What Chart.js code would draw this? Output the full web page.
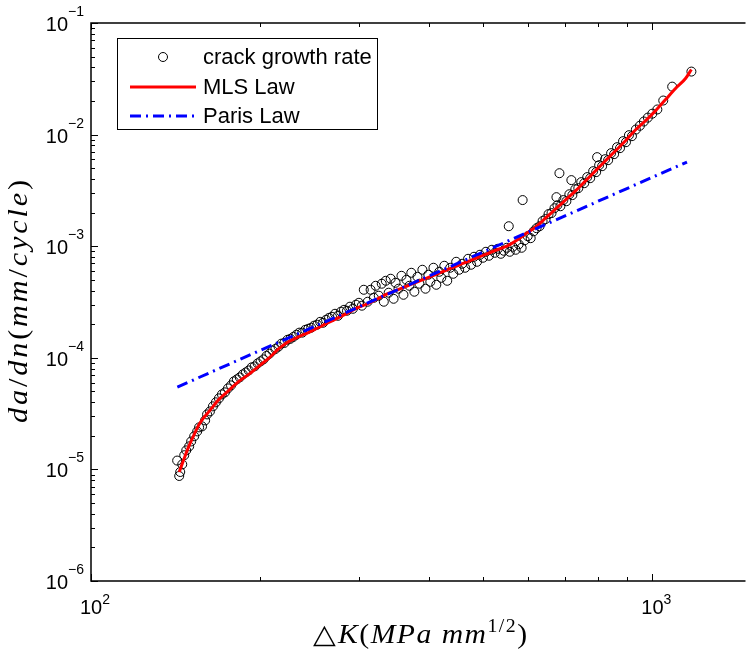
<!DOCTYPE html>
<html>
<head>
<meta charset="utf-8">
<script src="https://cdn.jsdelivr.net/npm/chart.js@4.4.1/dist/chart.umd.min.js"></script>
<style>
  body { margin: 0; background: #fff; }
  canvas { display: block; }
</style>
</head>
<body>
<canvas id="chart" width="746" height="652"></canvas>
<script>
const dK = [
  143.6,144.2,142.4,145.4,146.6,147.8,149.6,150.8,152.7,154.6,
  155.8,157.7,159.7,161.0,162.9,164.9,166.9,169.0,171.1,173.2,
  175.4,177.6,179.7,181.9,184.1,186.4,188.7,191.0,193.3,195.7,
  198.1,200.5,202.9,205.5,208.0,210.6,213.1,215.8,218.4,221.1,
  223.9,226.6,229.4,232.2,235.0,237.9,240.8,243.8,246.8,249.8,
  252.9,256.0,259.1,262.3,265.5,268.8,272.1,275.5,278.8,282.3,
  285.8,289.3,292.8,296.5,300.1,306.2,303.8,311.1,314.9,319.1,
  321.5,325.6,329.6,332.4,335.1,339.1,341.9,346.0,348.8,353.1,
  357.4,360.3,364.7,369.2,372.1,376.8,381.6,384.7,389.4,394.4,
  399.0,402.3,407.5,412.3,417.4,420.8,426.0,431.2,436.5,442.0,
  447.3,452.8,458.3,464.0,469.7,475.5,481.3,487.2,493.1,499.3,
  505.3,511.6,517.8,524.2,530.6,537.2,543.8,550.5,555.0,557.2,
  564.1,571.0,578.1,587.5,585.1,592.4,599.8,607.2,614.7,622.1,
  629.8,637.6,645.4,653.4,661.4,669.5,674.9,683.2,677.6,685.9,
  694.3,703.0,711.6,717.5,720.4,729.2,738.2,747.2,756.4,765.7,
  775.1,784.6,794.3,797.5,804.1,813.9,824.1,834.3,844.6,855.0,
  865.3,875.9,886.9,897.6,908.7,919.9,934.9,950.3,966.0,982.0,
  1000,1021,1046,1085,1174
];
const dadn = [
  8.73e-6,9.48e-6,1.20e-5,1.11e-5,1.34e-5,1.48e-5,1.61e-5,1.78e-5,1.98e-5,2.19e-5,
  2.38e-5,2.43e-5,2.75e-5,3.11e-5,3.31e-5,3.67e-5,3.99e-5,4.33e-5,4.70e-5,4.90e-5,
  5.32e-5,5.66e-5,6.15e-5,6.41e-5,6.68e-5,7.10e-5,7.40e-5,7.71e-5,8.21e-5,8.38e-5,
  8.91e-5,9.29e-5,9.68e-5,1.04e-4,1.09e-4,1.16e-4,1.20e-4,1.26e-4,1.34e-4,1.36e-4,
  1.45e-4,1.48e-4,1.54e-4,1.61e-4,1.68e-4,1.68e-4,1.78e-4,1.82e-4,1.86e-4,1.94e-4,
  1.98e-4,2.10e-4,2.06e-4,2.19e-4,2.28e-4,2.33e-4,2.48e-4,2.38e-4,2.59e-4,2.69e-4,
  2.64e-4,2.87e-4,2.75e-4,2.99e-4,3.11e-4,4.07e-4,2.93e-4,3.18e-4,4.07e-4,3.45e-4,
  4.42e-4,3.60e-4,4.61e-4,3.18e-4,4.90e-4,3.83e-4,5.11e-4,3.38e-4,4.70e-4,4.16e-4,
  5.43e-4,3.67e-4,5.00e-4,4.42e-4,5.78e-4,3.91e-4,5.32e-4,4.61e-4,6.15e-4,4.16e-4,
  5.55e-4,4.80e-4,6.41e-4,4.51e-4,5.90e-4,5.21e-4,6.68e-4,4.90e-4,6.41e-4,5.66e-4,
  7.25e-4,6.15e-4,6.96e-4,6.41e-4,7.71e-4,6.82e-4,8.04e-4,7.25e-4,8.38e-4,7.88e-4,
  8.91e-4,8.21e-4,9.29e-4,8.73e-4,9.48e-4,8.55e-4,9.10e-4,9.68e-4,1.51e-3,8.91e-4,
  9.88e-4,9.29e-4,1.04e-3,2.59e-3,9.68e-4,1.13e-3,1.23e-3,1.18e-3,1.36e-3,1.45e-3,
  1.51e-3,1.68e-3,1.75e-3,1.94e-3,1.98e-3,2.19e-3,2.75e-3,4.51e-3,2.33e-3,2.28e-3,
  2.59e-3,2.53e-3,2.92e-3,3.91e-3,2.87e-3,3.24e-3,3.31e-3,3.75e-3,3.67e-3,4.16e-3,
  4.07e-3,4.70e-3,4.61e-3,6.28e-3,5.32e-3,5.21e-3,6.02e-3,5.90e-3,6.82e-3,6.68e-3,
  7.71e-3,7.56e-3,8.73e-3,8.55e-3,9.88e-3,9.68e-3,1.11e-2,1.20e-2,1.31e-2,1.42e-2,
  1.54e-2,1.68e-2,2.02e-2,2.69e-2,3.67e-2
];

// MLS law fit
const mlsK = [
  143.6,146.6,149.6,152.7,155.8,159.0,162.3,165.6,169.0,
  176.1,183.4,191.0,198.9,207.2,215.8,224.8,234.1,243.8,254.0,264.5,275.5,287.0,298.9,
  311.3,324.3,337.7,351.8,366.4,381.6,397.5,414.0,431.2,449.1,467.8,487.2,507.5,528.6,
  550.5,573.4,597.3,622.1,648.0,674.9,703.0,732.2,762.6,794.3,827.4,861.8,897.6,934.9,
  973.8,1014,1056,1100,1146,1174
];
const mlsRate = [
  9.48e-6,1.26e-5,1.64e-5,2.06e-5,2.53e-5,2.93e-5,3.31e-5,3.75e-5,4.24e-5,
  5.11e-5,6.15e-5,7.10e-5,8.38e-5,9.88e-5,1.20e-4,1.39e-4,1.54e-4,1.68e-4,1.86e-4,2.06e-4,2.28e-4,2.53e-4,2.81e-4,
  3.05e-4,3.38e-4,3.75e-4,4.07e-4,4.42e-4,4.80e-4,5.21e-4,5.66e-4,6.15e-4,6.68e-4,7.25e-4,7.88e-4,8.55e-4,9.29e-4,
  1.00e-3,1.13e-3,1.31e-3,1.51e-3,1.82e-3,2.19e-3,2.64e-3,3.18e-3,3.91e-3,4.80e-3,5.90e-3,7.25e-3,8.91e-3,1.11e-2,
  1.34e-2,1.64e-2,2.06e-2,2.59e-2,3.18e-2,3.83e-2
];

// Paris law (straight line in log-log)
const parisK = [142.5, 1153];
const parisRate = [5.47e-5, 5.68e-3];

// axes
const xMin = 100, xMax = 1436;
const yMin = 1e-6, yMax = 1e-1;
const xTickValues = [100, 1000];
const xTickExps = ['2', '3'];
const yTickValues = [1e-6, 1e-5, 1e-4, 1e-3, 1e-2, 1e-1];
const yTickExps = ['\u22126', '\u22125', '\u22124', '\u22123', '\u22122', '\u22121'];
const legendLabels = ['crack growth rate', 'MLS Law', 'Paris Law'];

const SANS = '"Liberation Sans", Arial, Helvetica, sans-serif';
const SERIF = '"Liberation Serif", "Times New Roman", serif';

function minorTicks(min, max) {
  const out = [];
  for (let d = Math.pow(10, Math.floor(Math.log10(min))); d < max; d *= 10) {
    for (let k = 2; k <= 9; k++) {
      const v = k * d;
      if (v > min && v < max) out.push(v);
    }
  }
  return out;
}

function drawRuns(ctx, runs, x, y) {
  let cx = x;
  runs.forEach(r => {
    ctx.font = r.font;
    ctx.fillText(r.t, cx, y + (r.dy || 0));
    cx += ctx.measureText(r.t).width;
  });
}
function runsWidth(ctx, runs) {
  let w = 0;
  runs.forEach(r => { ctx.font = r.font; w += ctx.measureText(r.t).width; });
  return w;
}
// draw runs centred on (cx, y), widened a little (stretch + spacing) to a given width
function drawFitted(ctx, runs, cx, y, width, stretch) {
  ctx.save();
  ctx.translate(cx, y);
  ctx.scale(stretch, 1);
  ctx.letterSpacing = '0px';
  const w = runsWidth(ctx, runs);
  const n = runs.reduce((s, r) => s + r.t.length, 0);
  const sp = Math.max(0, (width / stretch - w) / n);
  ctx.letterSpacing = sp.toFixed(2) + 'px';
  const w2 = runsWidth(ctx, runs);
  drawRuns(ctx, runs, -w2 / 2, 0);
  ctx.restore();
}

const matlabAxes = {
  id: 'matlabAxes',
  beforeDraw(chart) {
    const ctx = chart.ctx;
    ctx.save();
    ctx.fillStyle = '#fff';
    ctx.fillRect(0, 0, chart.width, chart.height);
    ctx.restore();
  },
  afterDatasetsDraw(chart) {
    const { ctx, chartArea: a, scales: { x, y } } = chart;
    ctx.save();
    ctx.strokeStyle = '#000';
    ctx.fillStyle = '#000';
    ctx.lineWidth = 1.5;

    // box (right side is outside the picture)
    ctx.beginPath();
    ctx.moveTo(a.right + 5, a.top);
    ctx.lineTo(a.left, a.top);
    ctx.lineTo(a.left, a.bottom);
    ctx.lineTo(a.right + 5, a.bottom);
    ctx.stroke();

    // ticks, pointing inward
    ctx.lineWidth = 1;
    ctx.beginPath();
    const xt = (v, len) => {
      const px = Math.round(x.getPixelForValue(v)) + 0.5;
      ctx.moveTo(px, a.bottom); ctx.lineTo(px, a.bottom - len);
      ctx.moveTo(px, a.top); ctx.lineTo(px, a.top + len);
    };
    const yt = (v, len) => {
      const py = Math.round(y.getPixelForValue(v)) + 0.5;
      ctx.moveTo(a.left, py); ctx.lineTo(a.left + len, py);
    };
    xTickValues.forEach(v => xt(v, 7));
    minorTicks(xMin, xMax).forEach(v => xt(v, 4));
    yTickValues.forEach(v => yt(v, 7));
    minorTicks(yMin, yMax).forEach(v => yt(v, 4));
    ctx.stroke();

    // tick labels 10^n
    const big = '20px ' + SANS, small = '14px ' + SANS;
    ctx.textBaseline = 'alphabetic';
    ctx.textAlign = 'left';
    xTickValues.forEach((v, i) => {
      const runs = [{ t: '10', font: big }, { t: xTickExps[i], font: small, dy: -10 }];
      const w = runsWidth(ctx, runs);
      drawRuns(ctx, runs, x.getPixelForValue(v) - w / 2 + 4, a.bottom + 33);
    });
    yTickValues.forEach((v, i) => {
      const runs = [{ t: '10', font: big }, { t: yTickExps[i], font: small, dy: -15 }];
      const w = runsWidth(ctx, runs);
      drawRuns(ctx, runs, a.left - 7 - w, y.getPixelForValue(v) + 8);
    });

    // axis titles (LaTeX-like italic)
    const it = 'italic 27px ' + SERIF, up = '27px ' + SERIF, sup = '18px ' + SERIF;
    const xRuns = [
      { t: '\u25B3', font: up }, { t: 'K', font: it }, { t: '(', font: up },
      { t: 'MPa', font: it }, { t: ' ', font: up }, { t: 'mm', font: it },
      { t: '1/2', font: sup, dy: -11 }, { t: ')', font: up }
    ];
    drawFitted(ctx, xRuns, 421, 643, 215, 1.1);

    const yRuns = [
      { t: 'da', font: it }, { t: '/', font: up }, { t: 'dn', font: it }, { t: '(', font: up },
      { t: 'mm', font: it }, { t: '/', font: up }, { t: 'cycle', font: it }, { t: ')', font: up }
    ];
    ctx.save();
    ctx.translate(27, 300);
    ctx.rotate(-Math.PI / 2);
    drawFitted(ctx, yRuns, 0, 0, 246, 1.12);
    ctx.restore();

    // legend
    const lx = 117, ly = 38, lw = 260, lh = 91;
    ctx.fillStyle = '#fff';
    ctx.fillRect(lx, ly, lw, lh);
    ctx.strokeStyle = '#000';
    ctx.lineWidth = 1;
    ctx.strokeRect(lx + 0.5, ly + 0.5, lw, lh);
    const ds = chart.data.datasets;
    const rows = [57, 87, 116];
    ctx.font = '22px ' + SANS;
    ctx.fillStyle = '#000';
    ctx.textBaseline = 'middle';
    rows.forEach((ry, i) => {
      const d = ds[i];
      ctx.beginPath();
      ctx.strokeStyle = d.borderColor;
      ctx.lineWidth = d.borderWidth;
      if (i === 0) {
        ctx.arc(163, ry, d.pointRadius, 0, Math.PI * 2);
        ctx.stroke();
      } else {
        ctx.setLineDash(d.borderDash || []);
        ctx.moveTo(130, ry);
        ctx.lineTo(196, ry);
        ctx.stroke();
        ctx.setLineDash([]);
      }
      ctx.fillText(legendLabels[i], 203, ry + 1);
    });
    ctx.restore();
  }
};

new Chart(document.getElementById('chart'), {
  type: 'scatter',
  data: {
    datasets: [
      {
        label: legendLabels[0],
        data: dK.map((k, i) => ({ x: k, y: dadn[i] })),
        pointStyle: 'circle',
        pointRadius: 4.5,
        borderColor: '#000',
        borderWidth: 1,
        backgroundColor: 'rgba(0,0,0,0)',
        order: 3
      },
      {
        label: legendLabels[1],
        data: mlsK.map((k, i) => ({ x: k, y: mlsRate[i] })),
        showLine: true,
        pointRadius: 0,
        borderColor: '#ff0000',
        borderWidth: 3,
        cubicInterpolationMode: 'monotone',
        order: 2
      },
      {
        label: legendLabels[2],
        data: parisK.map((k, i) => ({ x: k, y: parisRate[i] })),
        showLine: true,
        pointRadius: 0,
        borderColor: '#0000ff',
        borderWidth: 3,
        borderDash: [11, 5, 2, 5],
        order: 1
      }
    ]
  },
  options: {
    responsive: false,
    animation: false,
    devicePixelRatio: 1,
    events: [],
    layout: { padding: { left: 91, top: 23, right: 0, bottom: 71 } },
    scales: {
      x: { type: 'logarithmic', min: xMin, max: xMax, display: false },
      y: { type: 'logarithmic', min: yMin, max: yMax, display: false }
    },
    plugins: {
      legend: { display: false },
      tooltip: { enabled: false }
    }
  },
  plugins: [matlabAxes]
});
</script>
</body>
</html>
